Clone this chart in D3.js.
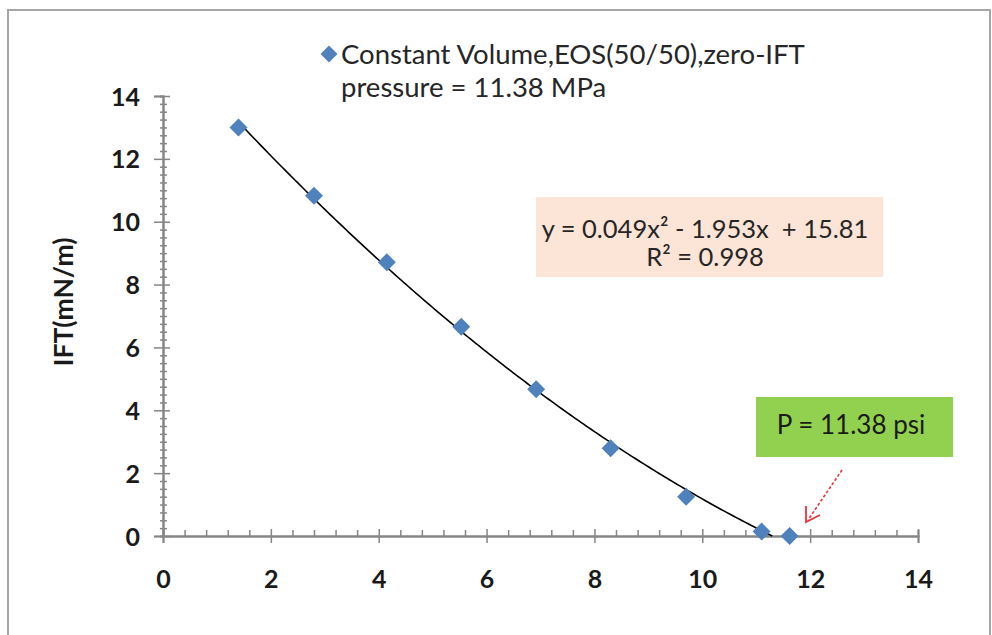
<!DOCTYPE html>
<html><head><meta charset="utf-8">
<script src="https://cdn.jsdelivr.net/npm/d3@7/dist/d3.min.js"></script>
<style>
body{margin:0;background:#fff;}
svg text{font-family:Lato,"Open Sans",sans-serif;}
</style>
</head><body>
<svg id="chart" width="992" height="635"></svg>
<script>
// ---- data ----
const pressure = [1.4, 2.8, 4.15, 5.53, 6.92, 8.3, 9.7, 11.1, 11.62];
const ift = [13.0, 10.83, 8.71, 6.66, 4.67, 2.79, 1.25, 0.14, 0.0];
const xTicks = [0, 2, 4, 6, 8, 10, 12, 14];
const yTicks = [0, 2, 4, 6, 8, 10, 12, 14];
const fitCoef = [0.049, -1.953, 15.81]; // a x^2 + b x + c
const legendLines = ["Constant Volume,EOS(50/50),zero-IFT", "pressure = 11.38 MPa"];
const eqLines = ["y = 0.049x\u00B2 - 1.953x  + 15.81", "R\u00B2 = 0.998"];
const noteText = "P = 11.38 psi";
const yTitle = "IFT(mN/m)";

const svg = d3.select("#chart");
const x = d3.scaleLinear().domain([0, 14]).range([163, 918]);
const y = d3.scaleLinear().domain([0, 14]).range([536, 96]);
const axisColor = "#868686";

// outer frame
svg.append("rect").attr("x", 8).attr("y", 10).attr("width", 982).attr("height", 640)
  .attr("fill", "#fff").attr("stroke", "#a6a6a6").attr("stroke-width", 2);

// minor ticks
const xMinor = d3.range(0, 14.001, 0.4).filter(v => Math.abs(v/2 - Math.round(v/2)) > 1e-6);
const yMinor = d3.range(0, 14.001, 0.25).filter(v => Math.abs(v/2 - Math.round(v/2)) > 1e-6);

const gxMinor = svg.append("g").attr("transform", `translate(0,${y(0)})`)
  .call(d3.axisBottom(x).tickValues(xMinor).tickSize(-6).tickFormat(""));
const gyMinor = svg.append("g").attr("transform", `translate(${x(0)},0)`)
  .call(d3.axisLeft(y).tickValues(yMinor).tickSize(3).tickFormat(""));
gyMinor.selectAll(".tick line").attr("x2", -3).attr("x1", 4);

const gx = svg.append("g").attr("transform", `translate(0,${y(0)})`)
  .call(d3.axisBottom(x).tickValues(xTicks).tickSize(7).tickPadding(40).tickFormat(d3.format("d")));
gx.selectAll(".tick line").attr("y1", -7).attr("y2", 7);
const gy = svg.append("g").attr("transform", `translate(${x(0)},0)`)
  .call(d3.axisLeft(y).tickValues(yTicks).tickSize(9).tickPadding(14).tickFormat(d3.format("d")));
gy.selectAll(".tick line").attr("x1", 7);

[gx, gy, gxMinor, gyMinor].forEach(g => {
  g.select(".domain").attr("stroke", axisColor).attr("stroke-width", 2);
  g.selectAll(".tick line").attr("stroke", axisColor).attr("stroke-width", 1.5);
  g.selectAll(".tick text").attr("fill", "#1a1a1a").attr("font-size", 25).attr("font-weight", "bold");
});
gx.selectAll(".tick text").attr("dy", "0.2em");
gy.selectAll(".tick text").attr("dy", "0.36em");

// y title
svg.append("text").attr("transform", `translate(73,302) rotate(-90)`)
  .attr("text-anchor", "middle").attr("font-size", 26.5).attr("font-weight", "bold")
  .attr("fill", "#1a1a1a").text(yTitle);

// trendline
const root = (-fitCoef[1] - Math.sqrt(fitCoef[1]*fitCoef[1] - 4*fitCoef[0]*fitCoef[2])) / (2*fitCoef[0]);
const trendX = d3.range(pressure[0], root, 0.05).concat([root]);
const line = d3.line().x(d => x(d)).y(d => y(fitCoef[0]*d*d + fitCoef[1]*d + fitCoef[2]));
svg.append("path").datum(trendX).attr("d", line).attr("fill", "none")
  .attr("stroke", "#000").attr("stroke-width", 1.6);

// markers
const diamond = (s) => `M0,${-s}L${s},0L0,${s}L${-s},0Z`;
svg.append("g").selectAll("path").data(pressure.map((p, i) => [p, ift[i]])).join("path")
  .attr("transform", d => `translate(${x(d[0])},${y(d[1])})`)
  .attr("d", diamond(9)).attr("fill", "#4F81BD");

// legend
svg.append("path").attr("transform", "translate(329,54)").attr("d", diamond(8.5)).attr("fill", "#4F81BD");
svg.append("g").selectAll("text").data(legendLines).join("text")
  .attr("x", 341).attr("y", (d, i) => 64 + i * 33)
  .attr("font-size", 27.5).attr("fill", "#262626").text(d => d);

// equation box
svg.append("rect").attr("x", 536).attr("y", 197).attr("width", 347).attr("height", 80).attr("fill", "#FCE4D6");
svg.append("g").selectAll("text").data(eqLines).join("text")
  .attr("x", 705).attr("y", (d, i) => 238 + i * 28)
  .attr("text-anchor", "middle").style("white-space", "pre")
  .attr("font-size", 25.5).attr("fill", "#262626").text(d => d);

// green note box
svg.append("rect").attr("x", 756).attr("y", 397).attr("width", 197).attr("height", 60).attr("fill", "#92D050");
svg.append("text").attr("x", 851).attr("y", 434).attr("text-anchor", "middle")
  .attr("font-size", 26).attr("fill", "#1a1a1a").text(noteText);

// red dashed arrow
svg.append("line").attr("x1", 842).attr("y1", 470).attr("x2", 808).attr("y2", 520)
  .attr("stroke", "#e8343a").attr("stroke-width", 1.6).attr("stroke-dasharray", "3,2");
svg.append("path").attr("d", "M806,506 L806,522 L820,515")
  .attr("fill", "none").attr("stroke", "#e8343a").attr("stroke-width", 1.8);
</script>
</body></html>
